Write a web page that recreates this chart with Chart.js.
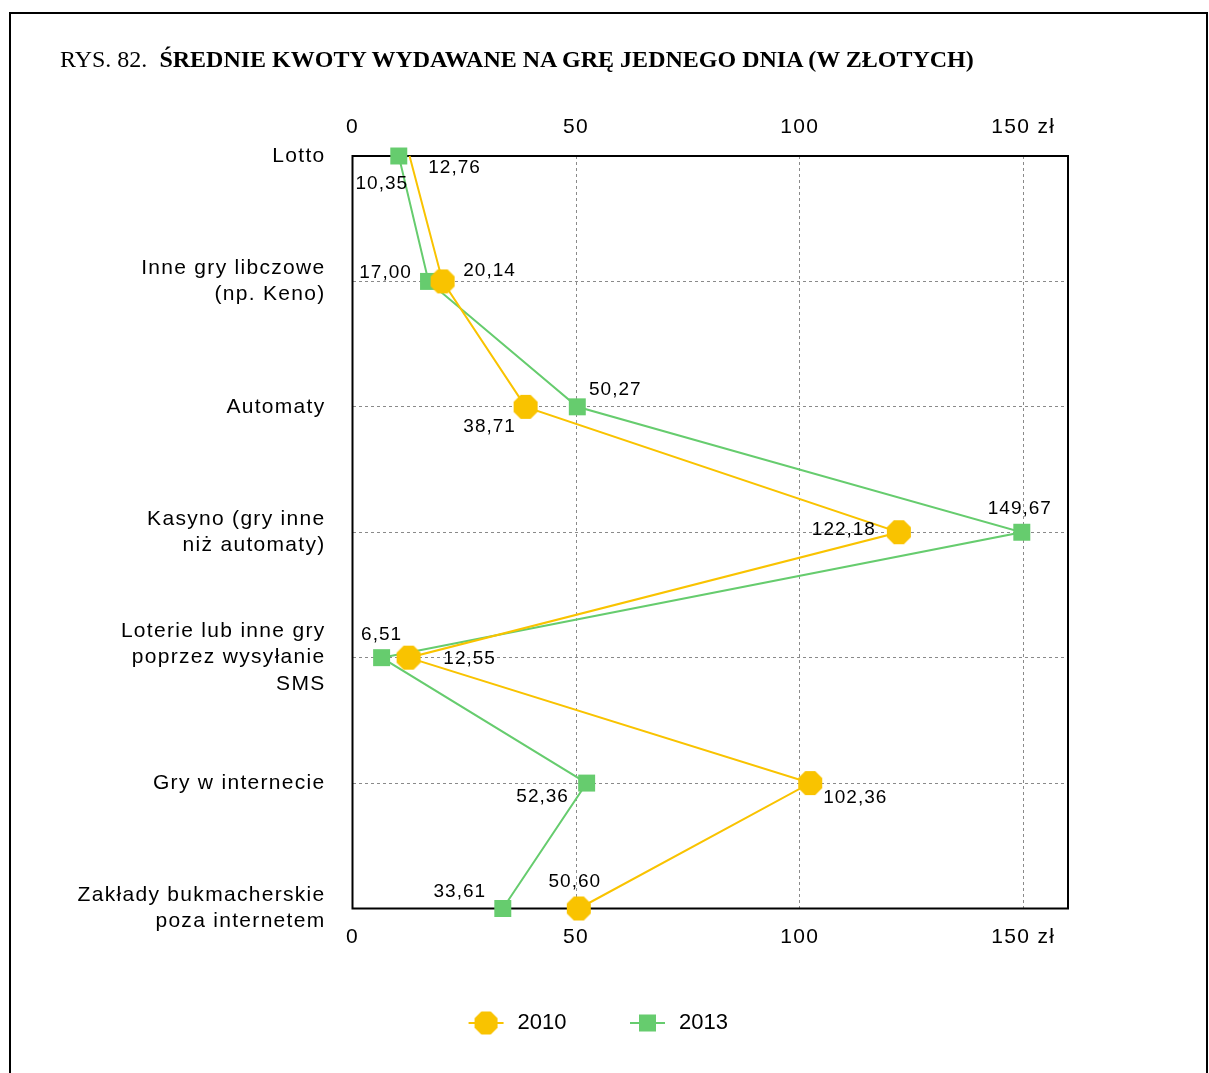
<!DOCTYPE html>
<html>
<head>
<meta charset="utf-8">
<script src="https://cdn.jsdelivr.net/npm/chart.js@4"></script>
<style>
html,body{margin:0;padding:0;background:#fff;}
#wrap{position:relative;width:1209px;height:1073px;overflow:hidden;background:#fff;}
#frame{position:absolute;left:9px;top:12px;width:1195px;height:1100px;border:2px solid #000;border-bottom:none;}
#title{position:absolute;left:60px;top:44px;font-family:"Liberation Serif","Times New Roman",serif;font-size:24px;color:#000;white-space:nowrap;line-height:30px;}
#c{position:absolute;left:0;top:0;}
</style>
</head>
<body>
<div id="wrap">
  <div id="frame"></div>
  <canvas id="c" width="1209" height="1073"></canvas>
  <div id="title">RYS. 82.&nbsp; <b>ŚREDNIE KWOTY WYDAWANE NA GRĘ JEDNEGO DNIA (W ZŁOTYCH)</b></div>
</div>
<script>
// ---- data ----
const categories = [
  ['Lotto'],
  ['Inne gry libczowe', '(np. Keno)'],
  ['Automaty'],
  ['Kasyno (gry inne', 'niż automaty)'],
  ['Loterie lub inne gry', 'poprzez wysyłanie', 'SMS'],
  ['Gry w internecie'],
  ['Zakłady bukmacherskie', 'poza internetem']
];
const seriesNames = ['2010', '2013'];
const values2010 = [12.76, 20.14, 38.71, 122.18, 12.55, 102.36, 50.60];
const values2013 = [10.35, 17.00, 50.27, 149.67, 6.51, 52.36, 33.61];
const xTickValues = [0, 50, 100, 150];
const xMin = 0;
const xMax = 160;

// ---- styles ----
const FONT = '"Liberation Sans", Arial, Helvetica, sans-serif';
const ORANGE = '#F9C300';
const GREEN = '#66CC6E';
const GRID = '#8a8a8a';

// label offsets (px) relative to each point
const labelOffsets = [
  [[45,12],[47,-11],[-36,20],[-55,-2],[61,1],[45,15],[-4,-27]],
  [[-17,28],[-43,-9],[38,-17],[-2,-23],[0,-23],[-44,14],[-43,-17]]
];

function drawOct(g, cx, cy, w, color){
  const R = (w/2) / Math.cos(Math.PI/8);
  g.beginPath();
  for (let k = 0; k < 8; k++){
    const a = Math.PI/8 + k*Math.PI/4;
    const px = cx + R*Math.cos(a), py = cy + R*Math.sin(a);
    if (k === 0) g.moveTo(px, py); else g.lineTo(px, py);
  }
  g.closePath();
  g.fillStyle = color;
  g.fill();
}
function makeOctagon(w, color){
  const c = document.createElement('canvas');
  c.width = w + 2; c.height = w + 2;
  drawOct(c.getContext('2d'), c.width/2, c.height/2, w, color);
  return c;
}
function makeLegendIcon(kind, color){
  const c = document.createElement('canvas');
  c.width = 41; c.height = 26;
  const g = c.getContext('2d');
  g.strokeStyle = color; g.lineWidth = 2;
  g.beginPath(); g.moveTo(3, 13); g.lineTo(38, 13); g.stroke();
  if (kind === 'oct') drawOct(g, 20.5, 13, 23, color);
  else { g.fillStyle = color; g.fillRect(20.5-8.5, 13-8.5, 17, 17); }
  return c;
}
const octagon = makeOctagon(24, ORANGE);
const legendIcons = [makeLegendIcon('oct', ORANGE), makeLegendIcon('sq', GREEN)];

const fmt = v => v.toFixed(2).replace('.', ',');

const spacing = {
  id: 'spacing',
  beforeDraw(chart){ chart.ctx.letterSpacing = '1.3px'; },
  afterLayout(chart){
    const lg = chart.legend;
    if (lg && !lg._wrapped){
      const orig = lg.draw.bind(lg);
      lg.draw = function(a){
        const ctx = chart.ctx, prev = ctx.letterSpacing;
        ctx.letterSpacing = '0px';
        orig(a);
        ctx.letterSpacing = prev;
      };
      lg._wrapped = true;
    }
  }
};

const valueLabels = {
  id: 'valueLabels',
  afterDatasetsDraw(chart){
    const ctx = chart.ctx;
    ctx.save();
    ctx.letterSpacing = '1px';
    ctx.font = '19px ' + FONT;
    ctx.fillStyle = '#000';
    ctx.textAlign = 'center';
    ctx.textBaseline = 'middle';
    chart.data.datasets.forEach((ds, di) => {
      const meta = chart.getDatasetMeta(di);
      meta.data.forEach((pt, i) => {
        const o = labelOffsets[di][i];
        ctx.fillText(fmt(ds.data[i]), pt.x + o[0], pt.y + o[1]);
      });
    });
    ctx.restore();
  }
};
const areaFrame = {
  id: 'areaFrame',
  beforeDatasetsDraw(chart){
    const {ctx, chartArea: a} = chart;
    ctx.save();
    ctx.strokeStyle = '#000';
    ctx.lineWidth = 2;
    ctx.strokeRect(a.left, a.top, a.right - a.left, a.bottom - a.top);
    ctx.restore();
  }
};

Chart.defaults.font.family = FONT;
Chart.defaults.color = '#000';

const xTicks = {
  padding: 16,
  color: '#000',
  maxRotation: 0,
  font: {size: 21, family: FONT},
  callback: v => v === 150 ? '150 zł' : String(v)
};

new Chart(document.getElementById('c'), {
  type: 'line',
  data: {
    labels: categories,
    datasets: [
      {
        label: seriesNames[0],
        data: values2010,
        borderColor: ORANGE,
        backgroundColor: ORANGE,
        borderWidth: 2,
        pointStyle: octagon,
        pointRadius: c => c.dataIndex === 0 ? 0 : 12,
        pointHoverRadius: c => c.dataIndex === 0 ? 0 : 12,
        pointBorderWidth: 0,
        tension: 0,
        clip: false,
        xAxisID: 'x'
      },
      {
        label: seriesNames[1],
        data: values2013,
        borderColor: GREEN,
        backgroundColor: GREEN,
        borderWidth: 2,
        pointStyle: 'rect',
        pointRadius: 12,
        pointHoverRadius: 12,
        pointBorderWidth: 0,
        tension: 0,
        clip: false,
        xAxisID: 'x'
      }
    ]
  },
  options: {
    indexAxis: 'y',
    responsive: false,
    animation: false,
    events: [],
    layout: {padding: {left: 0, right: 15.5, top: 90, bottom: 29}},
    scales: {
      x: {
        type: 'linear', position: 'bottom', min: xMin, max: xMax,
        afterBuildTicks: s => { s.ticks = xTickValues.map(v => ({value: v})); },
        afterFit: s => { s.height = 43; },
        grid: {color: GRID, lineWidth: 1, drawTicks: false},
        border: {display: false, dash: [3, 3]},
        ticks: xTicks
      },
      x2: {
        type: 'linear', position: 'top', min: xMin, max: xMax,
        afterBuildTicks: s => { s.ticks = xTickValues.map(v => ({value: v})); },
        afterFit: s => { s.height = 66; },
        grid: {display: false, drawTicks: false},
        border: {display: false},
        ticks: xTicks
      },
      y: {
        type: 'category', position: 'left', offset: false,
        afterFit: s => { s.width = 352.5; },
        grid: {offset: false, color: GRID, lineWidth: 1, drawTicks: false},
        border: {display: false, dash: [3, 3]},
        ticks: {padding: 27, autoSkip: false, color: '#000', font: {size: 21, family: FONT, lineHeight: 1.24}}
      },
      yR: {
        type: 'category', position: 'right', offset: false,
        afterFit: s => { s.width = 125.5; },
        grid: {display: false, drawTicks: false},
        border: {display: false},
        ticks: {display: false}
      }
    },
    plugins: {
      tooltip: {enabled: false},
      title: {display: false},
      legend: {
        position: 'bottom',
        labels: {
          usePointStyle: true,
          pointStyleWidth: 41,
          padding: 60.5,
          color: '#000',
          font: {size: 22, family: FONT},
          generateLabels(chart){
            const items = Chart.defaults.plugins.legend.labels.generateLabels(chart);
            items.forEach((it, i) => { it.pointStyle = legendIcons[i]; });
            return items;
          }
        }
      }
    }
  },
  plugins: [spacing, areaFrame, valueLabels]
});
</script>
</body>
</html>
